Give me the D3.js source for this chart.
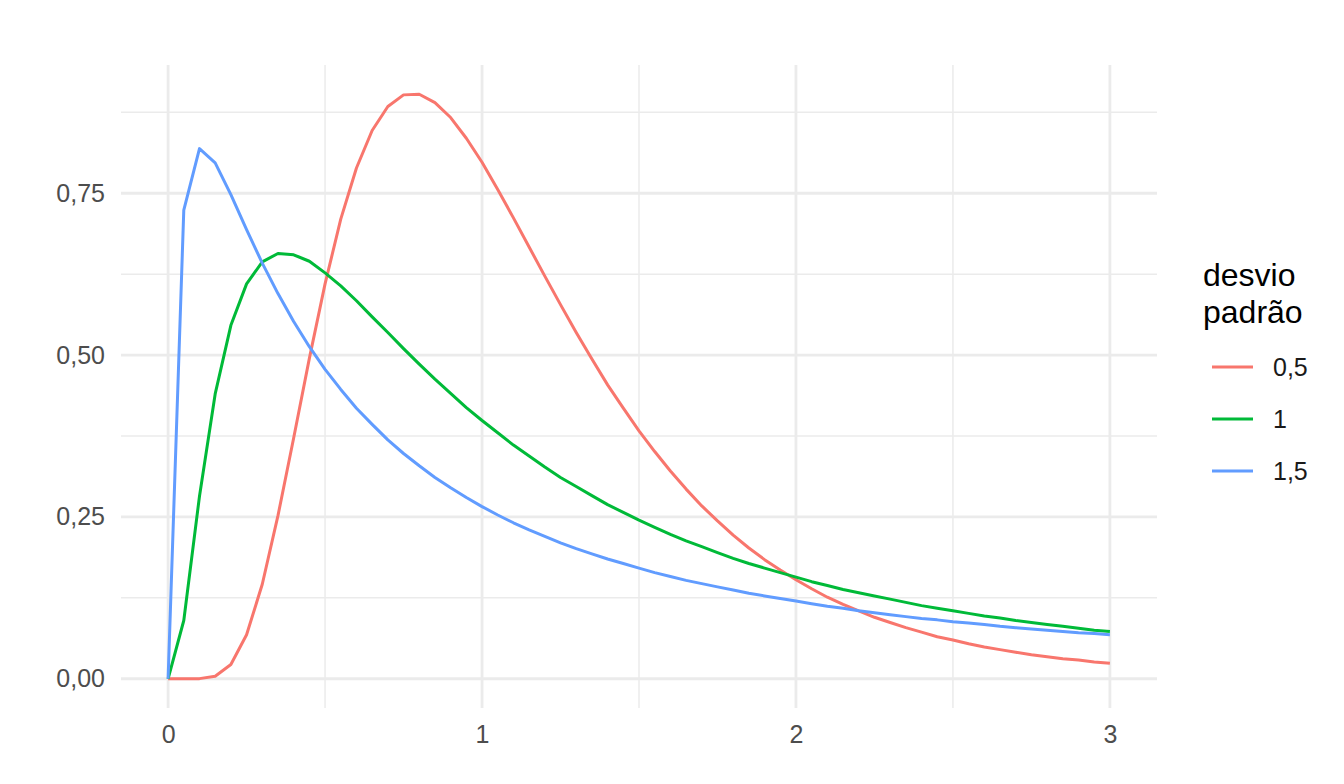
<!DOCTYPE html>
<html lang="pt">
<head>
<meta charset="UTF-8">
<title>Densidade log-normal</title>
<script src="https://cdn.jsdelivr.net/npm/d3@7"></script>
<style>
    html, body { margin: 0; padding: 0; background: #fff; }
    svg { display: block; font-family: "Liberation Sans", Arial, Helvetica, sans-serif; }
</style>
</head>
<body>
<div id="chart"></div>
<script>
    // x grid, 0 to 3 by 0.05
    const xValues = [0, 0.05, 0.1, 0.15, 0.2, 0.25, 0.3, 0.35, 0.4, 0.45, 0.5, 0.55, 0.6, 0.65, 0.7, 0.75,
        0.8, 0.85, 0.9, 0.95, 1, 1.05, 1.1, 1.15, 1.2, 1.25, 1.3, 1.35, 1.4, 1.45, 1.5, 1.55, 1.6, 1.65,
        1.7, 1.75, 1.8, 1.85, 1.9, 1.95, 2, 2.05, 2.1, 2.15, 2.2, 2.25, 2.3, 2.35, 2.4, 2.45, 2.5, 2.55,
        2.6, 2.65, 2.7, 2.75, 2.8, 2.85, 2.9, 2.95, 3]

    const sd05 = [0, 0, 0.0002, 0.004, 0.022, 0.068, 0.146, 0.252, 0.372, 0.495, 0.610, 0.710, 0.789,
        0.847, 0.884, 0.902, 0.903, 0.890, 0.867, 0.835, 0.798, 0.756, 0.712, 0.667, 0.622, 0.578,
        0.535, 0.494, 0.454, 0.418, 0.383, 0.351, 0.321, 0.293, 0.267, 0.244, 0.222, 0.202, 0.184,
        0.168, 0.153, 0.139, 0.126, 0.115, 0.105, 0.095, 0.087, 0.079, 0.072, 0.065, 0.060, 0.054,
        0.049, 0.045, 0.041, 0.037, 0.034, 0.031, 0.029, 0.026, 0.024]

    const sd1 = [0, 0.090, 0.282, 0.440, 0.546, 0.610, 0.644, 0.657, 0.655, 0.645, 0.627, 0.607, 0.584,
        0.559, 0.535, 0.510, 0.486, 0.463, 0.441, 0.419, 0.399, 0.380, 0.361, 0.344, 0.327, 0.311,
        0.297, 0.283, 0.269, 0.257, 0.245, 0.234, 0.223, 0.213, 0.204, 0.195, 0.186, 0.178, 0.171,
        0.164, 0.157, 0.150, 0.144, 0.138, 0.133, 0.128, 0.123, 0.118, 0.113, 0.109, 0.105, 0.101,
        0.097, 0.094, 0.090, 0.087, 0.084, 0.081, 0.078, 0.075, 0.073]

    const sd15 = [0, 0.724, 0.819, 0.797, 0.748, 0.694, 0.642, 0.595, 0.552, 0.513, 0.478, 0.447, 0.418,
        0.393, 0.369, 0.348, 0.329, 0.311, 0.295, 0.280, 0.266, 0.253, 0.241, 0.230, 0.220, 0.210,
        0.201, 0.193, 0.185, 0.178, 0.171, 0.164, 0.158, 0.152, 0.147, 0.142, 0.137, 0.132, 0.128,
        0.124, 0.120, 0.116, 0.112, 0.109, 0.105, 0.102, 0.099, 0.096, 0.093, 0.091, 0.088, 0.086,
        0.084, 0.081, 0.079, 0.077, 0.075, 0.073, 0.071, 0.070, 0.068]

    const seriesNames = ["0,5", "1", "1,5"]
    const seriesColors = ["#F8766D", "#00BA38", "#619CFF"]
    const xTicks = [0, 1, 2, 3]
    const xTickLabels = ["0", "1", "2", "3"]
    const yTicks = [0, 0.25, 0.5, 0.75]
    const yTickLabels = ["0,00", "0,25", "0,50", "0,75"]
    const legendTitle = ["desvio", "padrão"]

    const width = 1344
    const height = 784
    const panel = {left: 121, right: 1157, top: 65, bottom: 708}

    const allSeries = [sd05, sd1, sd15]

    // ggplot-like 5% expansion of the data range
    const xExt = d3.extent(xValues)
    const xPad = (xExt[1] - xExt[0]) * 0.05
    const yMax = d3.max(allSeries, (s) => d3.max(s))
    const yPad = yMax * 0.05

    const x = d3.scaleLinear()
        .domain([xExt[0] - xPad, xExt[1] + xPad])
        .range([panel.left, panel.right])

    const y = d3.scaleLinear()
        .domain([0 - yPad, yMax + yPad])
        .range([panel.bottom, panel.top])

    const svg = d3.select("#chart").append("svg")
        .attr("width", width)
        .attr("height", height)

    const grid = svg.append("g")

    // minor grid lines sit half way between the major ones
    const xMinor = xTicks.slice(0, -1).map((d, i) => (d + xTicks[i + 1]) / 2)
    const yMinor = yTicks.map((d) => d + 0.125)

    grid.selectAll(".x-minor")
        .data(xMinor)
        .enter().append("line")
        .attr("x1", (d) => x(d)).attr("x2", (d) => x(d))
        .attr("y1", panel.top).attr("y2", panel.bottom)
        .attr("stroke", "#EBEBEB")
        .attr("stroke-width", 1.5)

    grid.selectAll(".y-minor")
        .data(yMinor)
        .enter().append("line")
        .attr("x1", panel.left).attr("x2", panel.right)
        .attr("y1", (d) => y(d)).attr("y2", (d) => y(d))
        .attr("stroke", "#EBEBEB")
        .attr("stroke-width", 1.5)

    grid.selectAll(".x-major")
        .data(xTicks)
        .enter().append("line")
        .attr("x1", (d) => x(d)).attr("x2", (d) => x(d))
        .attr("y1", panel.top).attr("y2", panel.bottom)
        .attr("stroke", "#EBEBEB")
        .attr("stroke-width", 2.8)

    grid.selectAll(".y-major")
        .data(yTicks)
        .enter().append("line")
        .attr("x1", panel.left).attr("x2", panel.right)
        .attr("y1", (d) => y(d)).attr("y2", (d) => y(d))
        .attr("stroke", "#EBEBEB")
        .attr("stroke-width", 2.8)

    // axes: labels only, no domain line or ticks
    const xAxis = svg.append("g")
        .attr("transform", `translate(0, ${panel.bottom})`)
        .call(d3.axisBottom(x).tickValues(xTicks).tickFormat((d, i) => xTickLabels[i]).tickSize(0).tickPadding(17))
    xAxis.select(".domain").remove()
    xAxis.selectAll("text")
        .style("font-size", "25px")
        .attr("fill", "#4D4D4D")
        .attr("font-family", null)

    const yAxis = svg.append("g")
        .attr("transform", `translate(${panel.left}, 0)`)
        .call(d3.axisLeft(y).tickValues(yTicks).tickFormat((d, i) => yTickLabels[i]).tickSize(0).tickPadding(16))
    yAxis.select(".domain").remove()
    yAxis.selectAll("text")
        .style("font-size", "25px")
        .attr("fill", "#4D4D4D")
        .attr("font-family", null)

    const line = d3.line()
        .x((d, i) => x(xValues[i]))
        .y((d) => y(d))

    svg.selectAll(".curve")
        .data(allSeries)
        .enter().append("path")
        .attr("class", "curve")
        .attr("d", (d) => line(d))
        .attr("fill", "none")
        .attr("stroke", (d, i) => seriesColors[i])
        .attr("stroke-width", 3)
        .attr("stroke-linejoin", "round")

    // legend
    const legend = svg.append("g")
        .attr("transform", "translate(1203, 0)")

    legend.selectAll(".legend-title")
        .data(legendTitle)
        .enter().append("text")
        .attr("x", 0)
        .attr("y", (d, i) => 286 + i * 37)
        .style("font-size", "32px")
        .attr("fill", "#000")
        .text((d) => d)

    const items = legend.selectAll(".legend-item")
        .data(seriesNames)
        .enter().append("g")
        .attr("transform", (d, i) => `translate(0, ${367 + i * 52})`)

    items.append("line")
        .attr("x1", 9).attr("x2", 50)
        .attr("y1", 0).attr("y2", 0)
        .attr("stroke", (d, i) => seriesColors[i])
        .attr("stroke-width", 3)

    items.append("text")
        .attr("x", 70)
        .attr("y", 0)
        .attr("dy", "0.36em")
        .style("font-size", "25px")
        .attr("fill", "#1A1A1A")
        .text((d) => d)
</script>
</body>
</html>
